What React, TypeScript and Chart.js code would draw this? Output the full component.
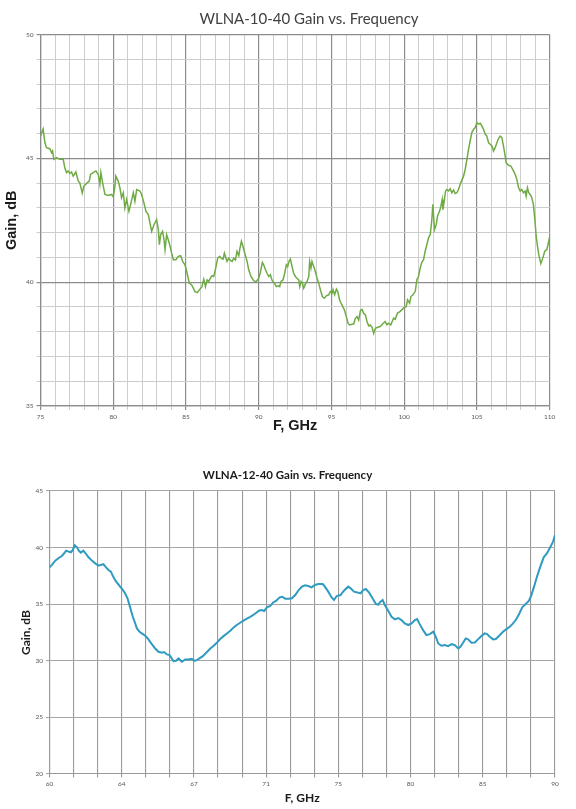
import { useEffect, useRef } from 'react'
import { Chart, registerables } from 'chart.js'

Chart.register(...registerables)

// WLNA-10-40: frequency (GHz) and gain (dB)
const topFreq = [
  75.0, 75.18, 75.3, 75.41, 75.64, 75.76, 75.83, 75.92, 76.1, 76.33, 76.56, 76.67, 76.79, 76.9, 77.02, 77.13,
  77.25, 77.43, 77.6, 77.7, 77.87, 77.98, 78.17, 78.35, 78.44, 78.62, 78.81, 78.97, 79.08, 79.15, 79.27, 79.43,
  79.66, 79.89, 80.0, 80.11, 80.18, 80.34, 80.46, 80.57, 80.69, 80.8, 80.92, 81.08, 81.22, 81.38, 81.49, 81.61,
  81.83, 81.95, 82.11, 82.25, 82.41, 82.64, 82.8, 82.98, 83.1, 83.17, 83.26, 83.39, 83.49, 83.56, 83.67, 83.85,
  84.01, 84.13, 84.31, 84.47, 84.63, 84.77, 84.93, 85.05, 85.23, 85.39, 85.62, 85.78, 85.92, 86.1, 86.22, 86.34,
  86.45, 86.56, 86.68, 86.79, 86.91, 87.02, 87.18, 87.32, 87.41, 87.55, 87.64, 87.71, 87.82, 87.94, 88.05, 88.17,
  88.28, 88.4, 88.51, 88.63, 88.69, 88.81, 88.92, 89.04, 89.2, 89.31, 89.47, 89.66, 89.84, 90.0, 90.11, 90.25,
  90.34, 90.46, 90.57, 90.69, 90.8, 90.92, 91.08, 91.21, 91.33, 91.44, 91.53, 91.67, 91.76, 91.9, 91.99, 92.08,
  92.18, 92.29, 92.4, 92.52, 92.63, 92.75, 92.82, 92.91, 93.0, 93.09, 93.21, 93.32, 93.44, 93.5, 93.59, 93.66,
  93.78, 93.89, 94.01, 94.12, 94.24, 94.37, 94.51, 94.65, 94.81, 94.92, 95.04, 95.11, 95.22, 95.34, 95.43, 95.56,
  95.72, 95.89, 96.02, 96.14, 96.25, 96.41, 96.53, 96.64, 96.76, 96.87, 96.99, 97.1, 97.21, 97.33, 97.44, 97.56,
  97.67, 97.79, 97.9, 98.02, 98.18, 98.35, 98.53, 98.69, 98.81, 98.92, 99.08, 99.27, 99.38, 99.54, 99.73, 99.95,
  100.14, 100.23, 100.37, 100.46, 100.6, 100.76, 100.87, 100.98, 101.1, 101.21, 101.33, 101.44, 101.56, 101.67,
  101.79, 101.9, 101.97, 102.02, 102.08, 102.2, 102.29, 102.43, 102.52, 102.61, 102.66, 102.75, 102.84, 102.93,
  103.05, 103.16, 103.27, 103.39, 103.5, 103.62, 103.73, 103.85, 103.96, 104.08, 104.19, 104.31, 104.42, 104.53,
  104.65, 104.76, 104.88, 104.99, 105.11, 105.22, 105.34, 105.45, 105.57, 105.68, 105.8, 105.91, 106.03, 106.14,
  106.25, 106.37, 106.48, 106.6, 106.71, 106.82, 106.94, 107.01, 107.17, 107.33, 107.51, 107.63, 107.74, 107.86,
  107.97, 108.08, 108.2, 108.31, 108.38, 108.47, 108.56, 108.66, 108.77, 108.88, 109.0, 109.07, 109.16, 109.25,
  109.39, 109.53, 109.66, 109.8, 109.91, 110.0
]
const topGain = [
  45.9, 46.18, 45.64, 45.43, 45.39, 45.23, 45.3, 44.96, 45.03, 44.96, 44.96, 44.62, 44.42, 44.49, 44.39, 44.45,
  44.28, 44.45, 44.08, 44.01, 43.6, 43.88, 43.99, 44.08, 44.35, 44.42, 44.49, 44.35, 43.95, 44.42, 44.01, 43.54,
  43.5, 43.54, 43.45, 43.85, 44.28, 44.08, 43.81, 43.41, 43.61, 43.0, 43.34, 42.86, 43.2, 43.61, 43.27, 43.74,
  43.68, 43.54, 43.2, 42.86, 42.73, 42.05, 42.32, 42.53, 42.12, 41.51, 41.92, 42.05, 41.72, 41.31, 41.92, 41.58,
  41.18, 40.91, 40.91, 41.04, 41.07, 40.84, 40.7, 40.43, 39.96, 39.89, 39.62, 39.58, 39.69, 39.82, 40.12, 39.82,
  40.09, 40.03, 40.16, 40.26, 40.23, 40.5, 40.97, 41.04, 40.97, 40.93, 41.17, 41.04, 40.84, 40.97, 40.88, 40.84,
  40.97, 40.9, 41.24, 41.07, 41.31, 41.65, 41.44, 41.17, 40.84, 40.5, 40.23, 40.05, 40.03, 40.16, 40.39, 40.8,
  40.7, 40.5, 40.36, 40.23, 40.3, 40.07, 39.96, 39.82, 39.85, 39.82, 40.03, 40.09, 40.3, 40.7, 40.63, 40.84,
  40.93, 40.63, 40.36, 40.23, 40.16, 40.09, 39.82, 40.03, 39.96, 39.76, 39.93, 40.03, 40.23, 40.84, 40.57, 40.84,
  40.63, 40.43, 40.16, 39.96, 39.69, 39.42, 39.35, 39.45, 39.49, 39.62, 39.55, 39.69, 39.49, 39.72, 39.62, 39.28,
  39.08, 38.88, 38.61, 38.34, 38.27, 38.3, 38.31, 38.54, 38.61, 38.47, 38.85, 38.9, 38.74, 38.68, 38.41, 38.23,
  38.27, 38.18, 37.93, 38.14, 38.18, 38.21, 38.32, 38.41, 38.28, 38.34, 38.28, 38.55, 38.5, 38.75, 38.82, 38.95,
  39.02, 39.29, 39.15, 39.42, 39.49, 39.63, 40.1, 40.23, 40.57, 40.8, 40.91, 41.25, 41.52, 41.79,
  41.92, 42.53, 43.14, 42.67, 42.12, 42.33, 42.67, 42.87, 43.07, 43.34, 42.93, 43.27, 43.68, 43.74,
  43.68, 43.77, 43.61, 43.72, 43.58, 43.61, 43.74, 43.95, 44.12, 44.28, 44.55, 44.96, 45.36, 45.7,
  46.04, 46.17, 46.24, 46.44, 46.38, 46.42, 46.31, 46.17, 45.97, 45.9, 45.63, 45.57, 45.5, 45.3,
  45.43, 45.63, 45.8, 45.9, 45.84, 45.5, 45.09, 44.82, 44.72, 44.69, 44.49, 44.35, 44.15, 43.81,
  43.68, 43.74, 43.61, 43.68, 43.47, 43.81, 43.61, 43.54, 43.41, 43.14, 42.39, 41.85, 41.45, 41.11,
  40.75, 40.98, 41.25, 41.31, 41.58, 41.85
]

// WLNA-12-40: Excel category axis with 21 equal divisions; position is in divisions
const bottomPos = [
  0, 0.1, 0.24, 0.37, 0.51, 0.61, 0.69, 0.79, 0.89, 0.97, 1.05, 1.14, 1.22, 1.3, 1.41, 1.5, 1.62, 1.76, 1.9,
  2.04, 2.13, 2.24, 2.35, 2.45, 2.55, 2.66, 2.77, 2.91, 3.05, 3.14, 3.24, 3.35, 3.46, 3.56, 3.63, 3.74, 3.88,
  4.02, 4.11, 4.25, 4.39, 4.53, 4.67, 4.76, 4.88, 4.99, 5.08, 5.15, 5.26, 5.36, 5.5, 5.64, 5.78, 5.91, 6.01,
  6.12, 6.23, 6.37, 6.51, 6.68, 6.81, 6.95, 7.09, 7.23, 7.37, 7.51, 7.65, 7.78, 7.92, 8.06, 8.2, 8.34, 8.48,
  8.59, 8.7, 8.82, 8.92, 9.03, 9.17, 9.28, 9.42, 9.56, 9.67, 9.79, 9.93, 10.07, 10.21, 10.35, 10.49, 10.62,
  10.75, 10.89, 11.03, 11.17, 11.35, 11.44, 11.58, 11.72, 11.82, 11.93, 12.09, 12.23, 12.41, 12.51, 12.65,
  12.83, 12.92, 13.03, 13.14, 13.28, 13.42, 13.56, 13.66, 13.75, 13.84, 13.93, 14.07, 14.21, 14.35, 14.49,
  14.62, 14.76, 14.9, 15.04, 15.18, 15.27, 15.38, 15.52, 15.66, 15.8, 15.94, 16.05, 16.15, 16.28, 16.42,
  16.56, 16.7, 16.84, 16.98, 17.07, 17.18, 17.29, 17.39, 17.53, 17.67, 17.8, 17.94, 18.08, 18.18, 18.29,
  18.43, 18.54, 18.68, 18.84, 18.98, 19.12, 19.23, 19.37, 19.51, 19.64, 19.78, 19.92, 20.02, 20.13, 20.25,
  20.39, 20.53, 20.67, 20.78, 20.92, 21.0
]
const bottomGain = [
  38.26, 38.47, 38.85, 39.06, 39.26, 39.5, 39.73, 39.65, 39.59, 39.79, 40.21, 40.03, 39.73, 39.56, 39.73, 39.5,
  39.14, 38.85, 38.61, 38.41, 38.47, 38.53, 38.26, 38.02, 37.88, 37.37, 36.99, 36.61, 36.25, 35.96, 35.52,
  34.72, 33.89, 33.3, 32.86, 32.57, 32.36, 32.12, 31.89, 31.47, 31.09, 30.8, 30.71, 30.77, 30.56, 30.5, 30.21,
  29.97, 30.0, 30.21, 29.91, 30.12, 30.12, 30.18, 30.0, 30.06, 30.21, 30.41, 30.71, 31.09, 31.3, 31.59, 31.92,
  32.18, 32.42, 32.65, 32.95, 33.16, 33.36, 33.54, 33.72, 33.89, 34.07, 34.25, 34.42, 34.48, 34.4, 34.72,
  34.84, 35.13, 35.31, 35.6, 35.66, 35.49, 35.49, 35.52, 35.81, 36.25, 36.55, 36.67, 36.61, 36.49, 36.7,
  36.78, 36.78, 36.55, 36.11, 35.6, 35.37, 35.72, 35.81, 36.19, 36.55, 36.4, 36.11, 36.02, 35.96, 36.25,
  36.34, 36.02, 35.52, 35.01, 34.96, 35.22, 35.37, 34.93, 34.42, 33.89, 33.66, 33.78, 33.6, 33.3, 33.16,
  33.3, 33.6, 33.69, 33.24, 32.71, 32.27, 32.36, 32.57, 32.12, 31.53, 31.33, 31.39, 31.3, 31.47, 31.39,
  31.09, 31.24, 31.59, 31.98, 31.89, 31.59, 31.62, 31.89, 32.18, 32.42, 32.36, 32.12, 31.89, 31.92, 32.21,
  32.57, 32.8, 33.01, 33.24, 33.6, 34.13, 34.72, 35.01, 35.31, 35.81, 36.55, 37.43, 38.32, 39.14, 39.5,
  39.94, 40.53, 41.12
]
const bottomTickLabels = ['60', '64', '67', '71', '75', '80', '85', '90']

// chart title drawn at a fixed spot, since the original is not centred on the canvas
function fixedTitle(text: string, font: string, color: string, cx: number, cy: number) {
  return {
    id: 'fixedTitle',
    afterDraw(chart: any) {
      const ctx = chart.ctx
      ctx.save()
      ctx.font = font
      ctx.fillStyle = color
      ctx.textAlign = 'center'
      ctx.textBaseline = 'middle'
      ctx.fillText(text, cx, cy)
      ctx.restore()
    }
  }
}

function TopChart() {
  const canvasRef = useRef<HTMLCanvasElement>(null)

  useEffect(() => {
    if (!canvasRef.current) return
    const tickFont = { family: 'Lato', size: 6.5 }
    const axisTitleFont = { family: 'Liberation Sans', size: 14.5, weight: 'bold' as const }
    const gridColor = (ctx: any) => (ctx.tick && ctx.tick.value % 5 === 0 ? '#8c8c8c' : '#cdcdcd')
    const gridWidth = (ctx: any) => (ctx.tick && ctx.tick.value % 5 === 0 ? 1.2 : 1)

    const chart = new Chart(canvasRef.current, {
      type: 'line',
      data: {
        datasets: [
          {
            data: topFreq.map((x, i) => ({ x, y: topGain[i] })),
            borderColor: '#6fab45',
            borderWidth: 1.5,
            pointRadius: 0,
            fill: false,
            tension: 0
          }
        ]
      },
      options: {
        animation: false,
        responsive: true,
        maintainAspectRatio: false,
        layout: { padding: { left: 0, right: 26.3, top: 34.5, bottom: 0 } },
        plugins: {
          legend: { display: false },
          tooltip: { enabled: false },
          title: { display: false }
        },
        scales: {
          x: {
            type: 'linear',
            min: 75,
            max: 110,
            afterFit: (s: any) => {
              s.height = 34
            },
            ticks: {
              stepSize: 1,
              autoSkip: false,
              maxRotation: 0,
              padding: 3,
              color: '#595959',
              font: tickFont,
              callback: (v: any) => (v % 5 === 0 ? String(v) : '')
            },
            grid: { color: gridColor, lineWidth: gridWidth, tickLength: 4 },
            border: { color: '#8c8c8c', width: 1.2 },
            title: {
              display: true,
              text: 'F, GHz',
              color: '#1a1a1a',
              font: axisTitleFont,
              padding: { top: 0, bottom: 5.6 }
            }
          },
          y: {
            type: 'linear',
            min: 35,
            max: 50,
            afterFit: (s: any) => {
              s.width = 40.5
            },
            ticks: {
              stepSize: 1,
              autoSkip: false,
              padding: 3,
              color: '#595959',
              font: tickFont,
              callback: (v: any) => (v % 5 === 0 ? String(v) : '')
            },
            grid: { color: gridColor, lineWidth: gridWidth, tickLength: 4 },
            border: { color: '#8c8c8c', width: 1.2 },
            title: {
              display: true,
              text: 'Gain, dB',
              color: '#1a1a1a',
              font: axisTitleFont,
              padding: { top: 3.3, bottom: 0 }
            }
          }
        }
      },
      plugins: [fixedTitle('WLNA-10-40 Gain vs. Frequency', '15px Lato', '#404040', 309, 19.5)]
    })

    return () => {
      chart.destroy()
    }
  }, [])

  return (
    <div style={{ position: 'absolute', left: 0, top: 0, width: 576, height: 440 }}>
      <canvas ref={canvasRef}></canvas>
    </div>
  )
}

function BottomChart() {
  const canvasRef = useRef<HTMLCanvasElement>(null)

  useEffect(() => {
    if (!canvasRef.current) return
    const tickFont = { family: 'Lato', size: 6.5 }
    const axisTitleFont = { family: 'Lato', size: 12, weight: 'bold' as const }

    const chart = new Chart(canvasRef.current, {
      type: 'line',
      data: {
        datasets: [
          {
            data: bottomPos.map((x, i) => ({ x, y: bottomGain[i] })),
            borderColor: '#2f9bc1',
            borderWidth: 2,
            pointRadius: 0,
            fill: false,
            tension: 0
          }
        ]
      },
      options: {
        animation: false,
        responsive: true,
        maintainAspectRatio: false,
        layout: { padding: { left: 0, right: 21, top: 41, bottom: 0 } },
        plugins: {
          legend: { display: false },
          tooltip: { enabled: false },
          title: { display: false }
        },
        scales: {
          x: {
            type: 'linear',
            min: 0,
            max: 21,
            afterFit: (s: any) => {
              s.height = 35
            },
            ticks: {
              stepSize: 1,
              autoSkip: false,
              maxRotation: 0,
              padding: 3,
              color: '#595959',
              font: tickFont,
              callback: (v: any) => (v % 3 === 0 ? bottomTickLabels[v / 3] : '')
            },
            grid: { color: '#9a9a9a', lineWidth: 1.1, tickLength: 3.5 },
            border: { color: '#9a9a9a', width: 1.1 },
            title: {
              display: true,
              text: 'F, GHz',
              color: '#1a1a1a',
              font: axisTitleFont,
              padding: { top: 0, bottom: 3.8 }
            }
          },
          y: {
            type: 'linear',
            min: 20,
            max: 45,
            afterFit: (s: any) => {
              s.width = 49.5
            },
            ticks: {
              stepSize: 5,
              padding: 3,
              color: '#595959',
              font: tickFont
            },
            grid: { color: '#a6a6a6', lineWidth: 1.1, tickLength: 3.5 },
            border: { color: '#9a9a9a', width: 1.1 },
            title: {
              display: true,
              text: 'Gain, dB',
              color: '#1a1a1a',
              font: axisTitleFont,
              padding: { top: 18.5, bottom: 0 }
            }
          }
        }
      },
      plugins: [fixedTitle('WLNA-12-40 Gain vs. Frequency', 'bold 11.5px Lato', '#1a1a1a', 287.5, 25.5)]
    })

    return () => {
      chart.destroy()
    }
  }, [])

  return (
    <div style={{ position: 'absolute', left: 0, top: 450, width: 576, height: 359 }}>
      <canvas ref={canvasRef}></canvas>
    </div>
  )
}

export default function App() {
  return (
    <div style={{ position: 'absolute', left: 0, top: 0, width: 576, height: 809, background: '#fff' }}>
      <TopChart />
      <BottomChart />
    </div>
  )
}
